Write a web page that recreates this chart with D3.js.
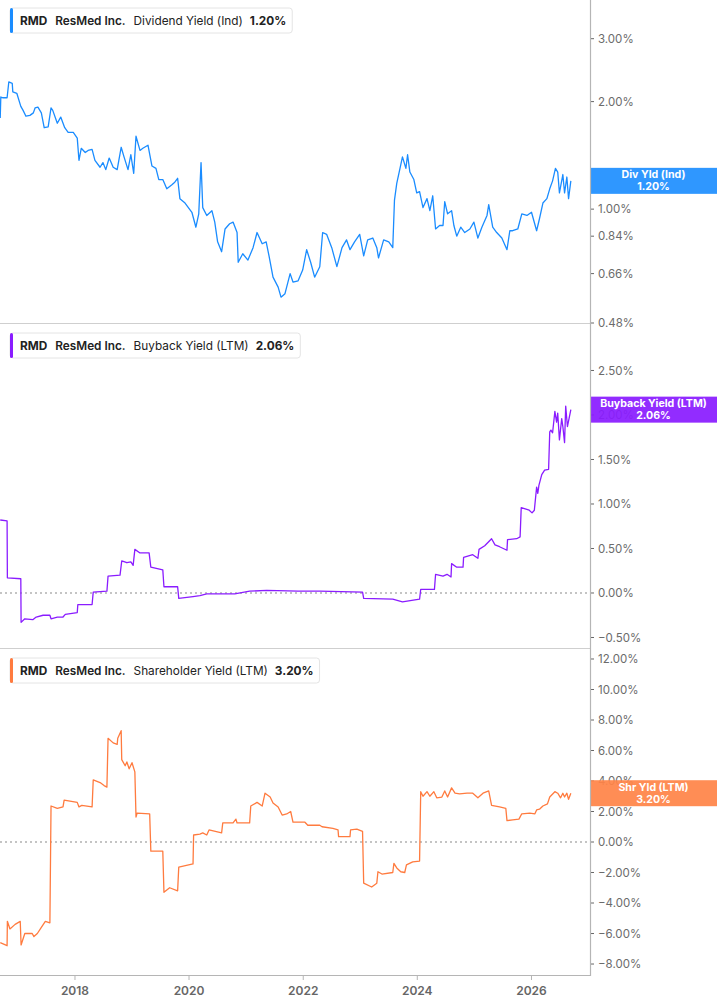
<!DOCTYPE html>
<html><head><meta charset="utf-8">
<script src="https://cdn.jsdelivr.net/npm/d3@7"></script>
<style>
body{margin:0;background:#fff;}
svg{display:block;font-family:Inter,"Noto Sans",sans-serif;}
</style>
</head><body>
<svg id="chart" width="717" height="1005"></svg>
<script>
// ---------- data (dates as decimal years) ----------
const xTickYears = [2018, 2020, 2022, 2024, 2026];

const divTicks = [3.00, 2.00, 1.00, 0.84, 0.66, 0.48];
const buyTicks = [2.5, 2.0, 1.5, 1.0, 0.5, 0.0, -0.5];
const shrTicks = [12, 10, 8, 6, 4, 2, 0, -2, -4, -6, -8];

const divDates = [
 2016.69,2016.70,2016.74,2016.81,2016.84,2016.90,2016.91,2016.98,2017.05,2017.09,
 2017.14,2017.21,2017.27,2017.30,2017.35,2017.41,2017.46,2017.53,2017.58,2017.61,
 2017.69,2017.75,2017.82,2017.88,2017.97,2018.04,2018.07,2018.11,2018.18,2018.23,
 2018.30,2018.35,2018.44,2018.49,2018.54,2018.60,2018.67,2018.74,2018.81,2018.86,
 2018.93,2018.98,2019.03,2019.07,2019.14,2019.19,2019.28,2019.35,2019.42,2019.47,
 2019.54,2019.61,2019.70,2019.75,2019.80,2019.84,2019.93,2020.05,2020.12,2020.17,
 2020.21,2020.24,2020.31,2020.40,2020.45,2020.50,2020.57,2020.63,2020.71,2020.77,
 2020.84,2020.86,2020.94,2021.03,2021.12,2021.19,2021.28,2021.35,2021.40,2021.47,
 2021.56,2021.61,2021.68,2021.77,2021.82,2021.91,2021.99,2022.06,2022.13,2022.20,
 2022.29,2022.34,2022.41,2022.50,2022.59,2022.68,2022.76,2022.82,2022.90,2022.99,
 2023.06,2023.13,2023.22,2023.29,2023.32,2023.41,2023.50,2023.57,2023.60,2023.64,
 2023.71,2023.74,2023.80,2023.83,2023.87,2023.94,2023.99,2024.04,2024.10,2024.17,
 2024.22,2024.27,2024.32,2024.39,2024.45,2024.48,2024.53,2024.60,2024.64,2024.69,
 2024.76,2024.83,2024.92,2024.99,2025.06,2025.13,2025.22,2025.25,2025.32,2025.39,
 2025.48,2025.57,2025.62,2025.67,2025.76,2025.83,2025.92,2026.00,2026.09,2026.14,
 2026.20,2026.27,2026.32,2026.37,2026.42,2026.46,2026.49,2026.55,2026.58,2026.62,
 2026.65,2026.69
];
const divValues = [
 1.80,2.06,2.05,2.05,2.27,2.25,2.13,2.11,1.94,1.89,
 1.82,1.83,1.86,1.92,1.93,1.86,1.69,1.70,1.92,1.89,
 1.74,1.81,1.69,1.64,1.64,1.58,1.37,1.48,1.44,1.46,
 1.47,1.37,1.31,1.35,1.29,1.39,1.31,1.29,1.49,1.40,
 1.29,1.42,1.26,1.60,1.46,1.48,1.51,1.32,1.30,1.21,
 1.21,1.14,1.17,1.19,1.22,1.07,1.04,0.98,0.89,0.97,
 1.35,1.01,0.96,0.99,0.92,0.81,0.76,0.88,0.91,0.92,
 0.86,0.71,0.75,0.72,0.78,0.86,0.80,0.81,0.74,0.645,
 0.605,0.567,0.58,0.66,0.625,0.63,0.675,0.77,0.71,0.645,
 0.69,0.86,0.85,0.78,0.69,0.78,0.82,0.77,0.81,0.85,
 0.74,0.82,0.83,0.78,0.73,0.82,0.81,0.78,1.06,1.18,
 1.33,1.40,1.30,1.42,1.27,1.21,1.11,1.12,1.01,1.07,
 0.99,1.09,0.88,0.90,0.90,1.05,0.97,0.99,0.90,0.84,
 0.89,0.86,0.88,0.92,0.83,0.89,0.96,1.03,0.89,0.86,
 0.83,0.77,0.87,0.87,0.88,0.97,0.96,0.98,0.87,0.94,
 1.04,1.07,1.14,1.20,1.30,1.27,1.11,1.25,1.11,1.23,
 1.07,1.20
];

const buyDates = [
 2016.69,2016.81,2016.815,2017.05,2017.055,2017.12,2017.26,2017.32,2017.44,2017.56,
 2017.58,2017.69,2017.79,2017.83,2018.04,2018.05,2018.30,2018.32,2018.56,2018.58,
 2018.79,2018.82,2018.91,2018.98,2019.02,2019.05,2019.14,2019.30,2019.33,2019.54,
 2019.56,2019.80,2019.82,2020.07,2020.19,2020.31,2020.80,2021.06,2021.36,2021.91,
 2022.29,2023.04,2023.06,2023.57,2023.74,2024.04,2024.06,2024.30,2024.32,2024.45,
 2024.52,2024.59,2024.60,2024.69,2024.80,2024.81,2024.97,2025.06,2025.08,2025.18,
 2025.30,2025.36,2025.44,2025.57,2025.58,2025.74,2025.80,2025.82,2025.96,2026.01,
 2026.05,2026.09,2026.11,2026.13,2026.18,2026.23,2026.30,2026.32,2026.34,2026.37,
 2026.41,2026.44,2026.46,2026.49,2026.53,2026.55,2026.58,2026.60,2026.63,2026.69
];
const buyValues = [
 0.82,0.81,0.17,0.16,-0.33,-0.29,-0.30,-0.27,-0.25,-0.25,
 -0.29,-0.27,-0.27,-0.24,-0.22,-0.13,-0.13,0.01,0.02,0.19,
 0.20,0.36,0.34,0.35,0.31,0.49,0.45,0.45,0.29,0.26,
 0.07,0.07,-0.06,-0.04,-0.03,-0.01,-0.01,0.02,0.03,0.02,
 0.02,0.01,-0.06,-0.07,-0.10,-0.07,0.04,0.04,0.21,0.19,
 0.21,0.18,0.33,0.29,0.29,0.40,0.43,0.39,0.49,0.53,
 0.61,0.54,0.52,0.48,0.60,0.61,0.63,0.96,0.93,0.90,
 0.93,1.19,1.12,1.21,1.33,1.38,1.39,1.81,1.83,1.80,
 2.04,1.92,2.02,1.72,1.96,1.87,1.69,2.10,1.87,2.06
];

const shrDates = [
 2016.69,2016.81,2016.815,2016.86,2016.95,2017.04,2017.055,2017.12,2017.25,2017.28,
 2017.34,2017.41,2017.48,2017.56,2017.58,2017.69,2017.79,2017.81,2018.04,2018.07,
 2018.12,2018.30,2018.32,2018.44,2018.51,2018.56,2018.58,2018.67,2018.74,2018.75,
 2018.81,2018.82,2018.88,2018.91,2018.95,2019.00,2019.05,2019.07,2019.09,2019.31,
 2019.33,2019.54,2019.56,2019.66,2019.80,2019.82,2020.07,2020.08,2020.19,2020.24,
 2020.31,2020.35,2020.57,2020.59,2020.77,2020.82,2020.84,2021.06,2021.08,2021.19,
 2021.28,2021.33,2021.42,2021.47,2021.56,2021.63,2021.71,2021.78,2021.82,2022.03,
 2022.08,2022.29,2022.33,2022.52,2022.61,2022.62,2022.82,2022.83,2022.94,2023.04,
 2023.06,2023.20,2023.29,2023.31,2023.38,2023.57,2023.59,2023.64,2023.71,2023.78,
 2023.81,2023.92,2024.04,2024.06,2024.10,2024.17,2024.22,2024.29,2024.34,2024.43,
 2024.48,2024.53,2024.60,2024.66,2024.74,2024.87,2024.97,2025.06,2025.15,2025.25,
 2025.30,2025.44,2025.55,2025.57,2025.67,2025.78,2025.83,2025.97,2026.06,2026.09,
 2026.14,2026.20,2026.28,2026.32,2026.41,2026.46,2026.51,2026.55,2026.58,2026.62,
 2026.65,2026.69
];
const shrValues = [
 -6.6,-6.8,-5.2,-5.7,-5.4,-5.2,-6.75,-6.0,-6.0,-6.2,
 -6.0,-5.6,-5.2,-5.3,2.36,2.2,2.3,2.75,2.6,2.3,
 2.4,2.3,4.07,3.9,3.7,3.6,6.8,6.5,6.4,6.8,
 7.3,5.4,5.0,5.25,4.8,5.2,4.6,1.64,1.9,1.84,
 -0.6,-0.6,-3.3,-3.0,-3.2,-1.64,-1.44,0.46,0.52,0.6,
 0.46,0.79,0.6,1.25,1.25,1.5,1.25,1.25,2.36,2.6,
 2.36,3.2,2.95,2.56,2.3,1.77,1.84,2.0,1.3,1.3,
 1.1,1.1,1.0,0.9,0.8,0.35,0.35,0.8,0.85,0.7,
 -2.7,-2.95,-2.7,-1.95,-2.1,-2.0,-1.4,-1.7,-1.95,-2.0,
 -1.5,-1.3,-1.25,3.3,3.0,3.3,3.0,3.3,2.9,2.95,
 3.35,2.95,3.55,3.2,3.15,3.2,3.2,2.9,3.2,3.35,
 2.4,2.3,2.2,1.4,1.45,1.5,1.85,1.9,1.85,2.1,
 2.15,2.36,2.5,2.95,3.3,3.2,2.9,3.2,2.95,3.2,
 2.8,3.2
];

// ---------- helpers ----------
const toDate = y => {
  const yr = Math.floor(y);
  const s = Date.UTC(yr, 0, 1), e = Date.UTC(yr + 1, 0, 1);
  return new Date(s + (y - yr) * (e - s));
};
const zip = (ds, vs) => d3.range(Math.min(ds.length, vs.length)).map(i => ({d: toDate(ds[i]), v: vs[i]}));

const svg = d3.select('#chart');
const plotR = 590, W = 717;
const x = d3.scaleUtc().domain([toDate(2016.686), toDate(2027.026)]).range([0, plotR]);

const panels = [
  {top: 0, bottom: 323, y: d3.scaleLog().domain([0.48, 3.85]).range([323, 0]),
   ticks: divTicks, data: zip(divDates, divValues), color: '#1a8cff', zero: false,
   name: 'Dividend Yield (Ind)', last: '1.20%', tag: ['Div Yld (Ind)', '1.20%'], tagColor: '#1f8fff', tagVal: 1.20},
  {top: 325, bottom: 648, y: d3.scaleLinear().domain([-0.618, 3.011]).range([648, 325]),
   ticks: buyTicks, data: zip(buyDates, buyValues), color: '#8a1cff', zero: true,
   name: 'Buyback Yield (LTM)', last: '2.06%', tag: ['Buyback Yield (LTM)', '2.06%'], tagColor: '#8a1cff', tagVal: 2.06},
  {top: 650, bottom: 975, y: d3.scaleLinear().domain([-8.72, 12.59]).range([975, 650]),
   ticks: shrTicks, data: zip(shrDates, shrValues), color: '#ff7b3f', zero: true,
   name: 'Shareholder Yield (LTM)', last: '3.20%', tag: ['Shr Yld (LTM)', '3.20%'], tagColor: '#ff8448', tagVal: 3.20}
];

const fmt = v => d3.format('.2f')(v) + '%';

panels.forEach((p, i) => {
  const g = svg.append('g');
  const clipId = 'clip' + i;
  svg.append('clipPath').attr('id', clipId).append('rect')
    .attr('x', 0).attr('y', p.top).attr('width', plotR).attr('height', p.bottom - p.top);

  if (p.zero) {
    g.append('line').attr('x1', 0).attr('x2', plotR)
      .attr('y1', p.y(0)).attr('y2', p.y(0))
      .attr('stroke', '#8a8a8a').attr('stroke-width', 1.2).attr('stroke-dasharray', '2,3');
  }

  g.append('path').datum(p.data)
    .attr('clip-path', `url(#${clipId})`)
    .attr('fill', 'none').attr('stroke', p.color).attr('stroke-width', 1.3)
    .attr('stroke-linejoin', 'round')
    .attr('d', d3.line().x(d => x(d.d)).y(d => p.y(d.v)));

  // bottom border of panel
  g.append('line').attr('x1', 0).attr('x2', plotR)
    .attr('y1', p.bottom + 0.5).attr('y2', p.bottom + 0.5)
    .attr('stroke', i === 2 ? '#b5b5b5' : '#cfcfcf').attr('stroke-width', 1);

  // right axis ticks
  const ax = g.append('g');
  p.ticks.forEach(t => {
    const yy = p.y(t);
    ax.append('line').attr('x1', plotR).attr('x2', plotR + 4).attr('y1', yy).attr('y2', yy)
      .attr('stroke', '#666').attr('stroke-width', 1);
    ax.append('text').attr('x', plotR + 8).attr('y', yy).attr('dy', '0.35em')
      .attr('font-size', 11.5).attr('fill', '#6b6b6b').text(fmt(t));
  });

  // legend
  const lg = g.append('g').attr('transform', `translate(10,${p.top + 8})`);
  const box = lg.append('rect').attr('x', 0).attr('y', 0).attr('height', 25).attr('rx', 3)
    .attr('fill', '#fff').attr('stroke', '#e4e4e4');
  lg.append('rect').attr('x', 0).attr('y', 0).attr('width', 3).attr('height', 25).attr('rx', 1.5)
    .attr('fill', p.color);
  const txt = lg.append('text').attr('x', 10).attr('y', 17).attr('font-size', 11.8).attr('fill', '#222');
  txt.append('tspan').attr('font-weight', 700).text('RMD');
  txt.append('tspan').attr('dx', 8).attr('font-weight', 600).text('ResMed Inc.');
  txt.append('tspan').attr('dx', 8).attr('font-weight', 400).text(p.name);
  txt.append('tspan').attr('dx', 7).attr('font-weight', 700).text(p.last);
  const bb = txt.node().getBBox();
  box.attr('width', bb.x + bb.width + 6);

  // value tag (slightly translucent, like the reference, so axis text behind shows faintly)
  const ty = p.y(p.tagVal);
  const tg = g.append('g');
  tg.append('rect').attr('x', plotR + 1).attr('y', ty - 13).attr('width', W - plotR - 1).attr('height', 26)
    .attr('fill', p.tagColor).attr('fill-opacity', 0.93);
  tg.append('text').attr('x', plotR + (W - plotR) / 2).attr('y', ty - 2.5)
    .attr('text-anchor', 'middle').attr('font-size', 10.6).attr('font-weight', 700).attr('fill', '#fff')
    .text(p.tag[0]);
  tg.append('text').attr('x', plotR + (W - plotR) / 2).attr('y', ty + 9.5)
    .attr('text-anchor', 'middle').attr('font-size', 10.6).attr('font-weight', 700).attr('fill', '#fff')
    .text(p.tag[1]);
});

// right axis vertical line
svg.append('line').attr('x1', plotR + 0.5).attr('x2', plotR + 0.5).attr('y1', 0).attr('y2', 976)
  .attr('stroke', '#b5b5b5').attr('stroke-width', 1.2);

// x axis
const xa = svg.append('g');
xTickYears.forEach(yr => {
  const xx = x(toDate(yr));
  xa.append('line').attr('x1', xx).attr('x2', xx).attr('y1', 975).attr('y2', 980)
    .attr('stroke', '#b5b5b5').attr('stroke-width', 1);
  xa.append('text').attr('x', xx).attr('y', 995).attr('text-anchor', 'middle')
    .attr('font-size', 12).attr('font-weight', 600).attr('fill', '#666').text(yr);
});
</script>
</body></html>
